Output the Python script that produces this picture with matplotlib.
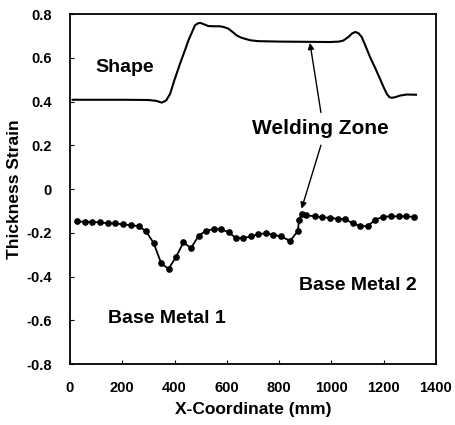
import numpy as np
import matplotlib
matplotlib.use('Agg')
import matplotlib.pyplot as plt

plt.rcParams['font.family'] = ['Liberation Sans', 'DejaVu Sans']
plt.rcParams['font.weight'] = 'bold'

# Shape curve (offset profile)
shape_x = [10, 100, 200, 300, 330, 351, 368, 383, 400, 421, 440, 453, 466, 478, 490, 500,
           515, 529, 550, 574, 590, 606, 622, 638, 655, 669, 690, 720, 800, 900, 995,
           1030, 1046, 1065, 1080, 1092, 1104, 1116, 1132, 1148, 1168, 1186, 1200, 1212,
           1222, 1231, 1245, 1262, 1288, 1324]
shape_y = [0.408, 0.408, 0.408, 0.407, 0.403, 0.395, 0.405, 0.435, 0.50, 0.573, 0.635, 0.679,
           0.715, 0.748, 0.758, 0.759, 0.752, 0.745, 0.744, 0.744, 0.740, 0.733, 0.718,
           0.702, 0.692, 0.687, 0.680, 0.676, 0.674, 0.673, 0.672, 0.674, 0.679, 0.695,
           0.712, 0.718, 0.712, 0.695, 0.650, 0.603, 0.552, 0.504, 0.465, 0.435, 0.420,
           0.417, 0.420, 0.427, 0.432, 0.431]

# Measured thickness strain
strain_x = [28, 57, 85, 115, 144, 173, 203, 233, 263, 291, 320, 349, 377, 406, 434, 463,
            492, 521, 550, 578, 607, 635, 663, 692, 720, 748, 778, 807, 842, 872, 876,
            886, 903, 936, 964, 995, 1024, 1053, 1083, 1109, 1139, 1168, 1199, 1227,
            1257, 1287, 1317]
strain_y = [-0.148, -0.150, -0.150, -0.153, -0.156, -0.157, -0.162, -0.165, -0.170, -0.193,
            -0.247, -0.340, -0.365, -0.310, -0.244, -0.270, -0.214, -0.190, -0.184, -0.184,
            -0.198, -0.224, -0.224, -0.217, -0.206, -0.203, -0.209, -0.217, -0.237, -0.192,
            -0.142, -0.112, -0.121, -0.124, -0.130, -0.131, -0.137, -0.139, -0.156, -0.170,
            -0.170, -0.140, -0.127, -0.125, -0.125, -0.125, -0.128]

fig = plt.figure(figsize=(4.56, 4.25), dpi=100)
ax = fig.add_axes([0.1535, 0.1435, 0.8025, 0.8235])

ax.plot(shape_x, shape_y, color='black', lw=1.5)
ax.plot(strain_x, strain_y, color='black', lw=1.3, marker='o', markersize=3.8)

ax.set_xlim(0, 1400)
ax.set_ylim(-0.8, 0.8)
ax.set_xticks(np.arange(0, 1401, 200))
ax.set_yticks([-0.8, -0.6, -0.4, -0.2, 0, 0.2, 0.4, 0.6, 0.8])
ax.set_yticklabels(['-0.8', '-0.6', '-0.4', '-0.2', '0', '0.2', '0.4', '0.6', '0.8'])
ax.tick_params(direction='in', length=3, width=0.8, labelsize=10.5)
ax.tick_params(axis='x', pad=12)
ax.tick_params(axis='y', pad=13)
for s in ax.spines.values():
    s.set_linewidth(1.3)

ax.set_xlabel('X-Coordinate (mm)', fontsize=12.5, fontweight='bold', labelpad=5)
ax.set_ylabel('Thickness Strain', fontsize=12.5, fontweight='bold', labelpad=3)

ax.text(210, 0.557, 'Shape', fontsize=14, fontweight='bold', ha='center', va='center')
ax.text(1100, -0.44, 'Base Metal 2', fontsize=14, fontweight='bold', ha='center', va='center')
ax.text(370, -0.592, 'Base Metal 1', fontsize=14, fontweight='bold', ha='center', va='center')
ax.text(956, 0.275, 'Welding Zone', fontsize=15, fontweight='bold', ha='center', va='center')

arrow = dict(arrowstyle='-|>', color='black', lw=1.0, mutation_scale=9, shrinkA=0, shrinkB=0)
ax.annotate('', xy=(918, 0.668), xytext=(960, 0.35), arrowprops=arrow)
ax.annotate('', xy=(886, -0.09), xytext=(960, 0.20), arrowprops=arrow)

fig.savefig('out.png', dpi=100)
